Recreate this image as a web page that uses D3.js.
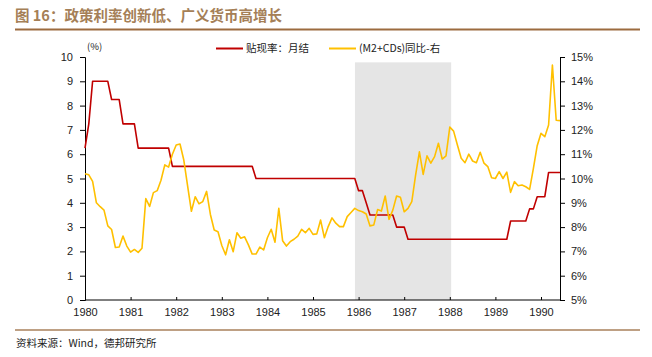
<!DOCTYPE html>
<html>
<head>
<meta charset="utf-8">
<script src="https://cdn.jsdelivr.net/npm/d3@7"></script>
<style>
  html, body { margin: 0; padding: 0; background: #fff; }
  svg { display: block; }
  text { font-family: "Liberation Sans", Arial, sans-serif; }
  .cjk { font-family: "Noto Sans CJK SC", sans-serif; }
</style>
</head>
<body>
<svg id="chart" width="652" height="357"></svg>
<script>
// ---- data (monthly, Jan 1980 – Jun 1990) ----
const startYear = 1980;
const yearTicks = [1980,1981,1982,1983,1984,1985,1986,1987,1988,1989,1990];
const leftTicks = [0,1,2,3,4,5,6,7,8,9,10];
const rightTicks = [5,6,7,8,9,10,11,12,13,14,15];
const seriesNames = ["贴现率：月结", "(M2+CDs)同比-右"];

// Discount rate (%), month-end
const discountRate = [
  6.25,7.25,9,9,9,9,9,8.25,8.25,8.25,7.25,7.25,            // 1980
  7.25,7.25,6.25,6.25,6.25,6.25,6.25,6.25,6.25,6.25,6.25,5.5, // 1981
  5.5,5.5,5.5,5.5,5.5,5.5,5.5,5.5,5.5,5.5,5.5,5.5,          // 1982
  5.5,5.5,5.5,5.5,5.5,5.5,5.5,5.5,5.5,5,5,5,                // 1983
  5,5,5,5,5,5,5,5,5,5,5,5,                                  // 1984
  5,5,5,5,5,5,5,5,5,5,5,5,                                  // 1985
  4.5,4.5,4,3.5,3.5,3.5,3.5,3.5,3.5,3.5,3,3,                // 1986
  3,2.5,2.5,2.5,2.5,2.5,2.5,2.5,2.5,2.5,2.5,2.5,            // 1987
  2.5,2.5,2.5,2.5,2.5,2.5,2.5,2.5,2.5,2.5,2.5,2.5,          // 1988
  2.5,2.5,2.5,2.5,3.25,3.25,3.25,3.25,3.25,3.75,3.75,4.25,  // 1989
  4.25,4.25,5.25,5.25,5.25,5.25                             // 1990
];

// (M2+CDs) YoY (%), right axis
const m2Growth = [
  10.2,10.15,9.88,9.0,8.84,8.7,8.05,7.9,7.16,7.18,7.63,7.22,          // 1980
  6.97,7.08,6.96,7.13,9.17,8.85,9.42,9.5,9.93,10.56,10.47,11.0,       // 1981
  11.38,11.42,10.76,9.7,8.65,9.25,8.96,9.05,9.47,8.52,7.88,7.81,      // 1982
  7.24,6.86,7.48,6.99,7.77,7.54,7.6,7.27,6.89,6.89,7.18,7.06,         // 1983
  7.56,7.91,7.38,8.77,7.44,7.22,7.4,7.5,7.63,7.91,7.77,7.95,          // 1984
  7.7,7.72,8.29,7.56,8.02,8.38,8.16,8.02,8.02,8.43,8.6,8.77,          // 1985
  8.68,8.63,8.54,8.05,8.09,8.72,8.66,9.28,8.32,8.7,9.28,9.23,         // 1986
  8.63,8.77,9.05,10.14,11.1,10.17,10.93,10.63,10.9,11.45,10.8,10.93,  // 1987
  12.12,11.95,11.38,10.83,10.65,11.0,10.72,10.65,11.08,10.63,10.49,10.03, // 1988
  10.0,10.28,10.0,10.26,9.43,9.87,9.7,9.73,9.66,9.55,10.42,11.35,     // 1989
  11.86,11.72,12.2,14.67,12.4,12.38                                   // 1990
];

// shaded period (decimal years) and its top (left-axis units)
const shadePeriod = [1985.92, 1988.03];
const shadeTop = 9.78;

// ---- layout ----
const svg = d3.select("#chart");
const W = 652, H = 357;
const plot = { left: 85, right: 560, top: 57, bottom: 300 };

const t = i => startYear + i / 12;
const x = d3.scaleLinear().domain([1980, t(discountRate.length - 1)]).range([plot.left, plot.right]);
const yL = d3.scaleLinear().domain([0, 10]).range([plot.bottom, plot.top]);
const yR = d3.scaleLinear().domain([5, 15]).range([plot.bottom, plot.top]);

// title
svg.append("text").attr("class", "cjk")
  .attr("x", 15).attr("y", 21)
  .attr("font-size", 14.5).attr("font-weight", "bold")
  .attr("fill", "#a57f57")
  .text("图 16：政策利率创新低、广义货币高增长");
svg.append("line").attr("x1", 15).attr("x2", 640).attr("y1", 29.5).attr("y2", 29.5)
  .attr("stroke", "#9c6b3f").attr("stroke-width", 2);

// shaded band
svg.append("rect")
  .attr("x", x(shadePeriod[0])).attr("width", x(shadePeriod[1]) - x(shadePeriod[0]))
  .attr("y", yL(shadeTop)).attr("height", yL(0) - yL(shadeTop))
  .attr("fill", "#e5e5e5");

// axes
const gL = svg.append("g").attr("transform", `translate(${plot.left},0)`)
  .call(d3.axisLeft(yL).tickValues(leftTicks).tickSize(5).tickPadding(7).tickFormat(d3.format("d")));
const gR = svg.append("g").attr("transform", `translate(${plot.right},0)`)
  .call(d3.axisRight(yR).tickValues(rightTicks).tickSize(5).tickPadding(6).tickFormat(d => d + "%"));
const gX = svg.append("g").attr("transform", `translate(0,${plot.bottom})`)
  .call(d3.axisBottom(x).tickValues(yearTicks).tickSizeInner(-3).tickSizeOuter(0).tickPadding(6).tickFormat(d3.format("d")));

[gL, gR, gX].forEach(g => {
  g.selectAll(".domain").attr("stroke", "#000").attr("stroke-width", 1);
  g.selectAll(".tick line").attr("stroke", "#000");
  g.selectAll("text").attr("font-size", 11).attr("fill", "#222")
    .attr("font-family", "'Liberation Sans', Arial, sans-serif");
});
gX.selectAll("text").attr("dy", "0.9em");
gX.select(".domain").attr("d", `M${plot.left},0H${plot.right}`);

// (%) unit label
svg.append("text").attr("class", "cjk").attr("x", 87).attr("y", 50)
  .attr("font-size", 9.5).attr("fill", "#222").text("(%)");

// lines
const lineL = d3.line().x((d, i) => x(t(i))).y(d => yL(d));
const lineR = d3.line().x((d, i) => x(t(i))).y(d => yR(d));

svg.append("path").datum(discountRate).attr("d", lineL)
  .attr("fill", "none").attr("stroke", "#c00000").attr("stroke-width", 1.6)
  .attr("stroke-linejoin", "round");
svg.append("path").datum(m2Growth).attr("d", lineR)
  .attr("fill", "none").attr("stroke", "#ffc000").attr("stroke-width", 1.6)
  .attr("stroke-linejoin", "round");

// legend
const legend = [
  { name: seriesNames[0], color: "#c00000", x: 216 },
  { name: seriesNames[1], color: "#ffc000", x: 329 }
];
legend.forEach(l => {
  svg.append("line").attr("x1", l.x).attr("x2", l.x + 27).attr("y1", 48.5).attr("y2", 48.5)
    .attr("stroke", l.color).attr("stroke-width", 2);
  svg.append("text").attr("class", "cjk").attr("x", l.x + 30).attr("y", 52)
    .attr("font-size", 10.5).attr("fill", "#222").text(l.name);
});

// footer
svg.append("line").attr("x1", 15).attr("x2", 640).attr("y1", 330).attr("y2", 330)
  .attr("stroke", "#a9805b").attr("stroke-width", 1.5);
svg.append("text").attr("class", "cjk").attr("x", 16).attr("y", 347)
  .attr("font-size", 10.5).attr("fill", "#222").text("资料来源：Wind，德邦研究所");
</script>
</body>
</html>
